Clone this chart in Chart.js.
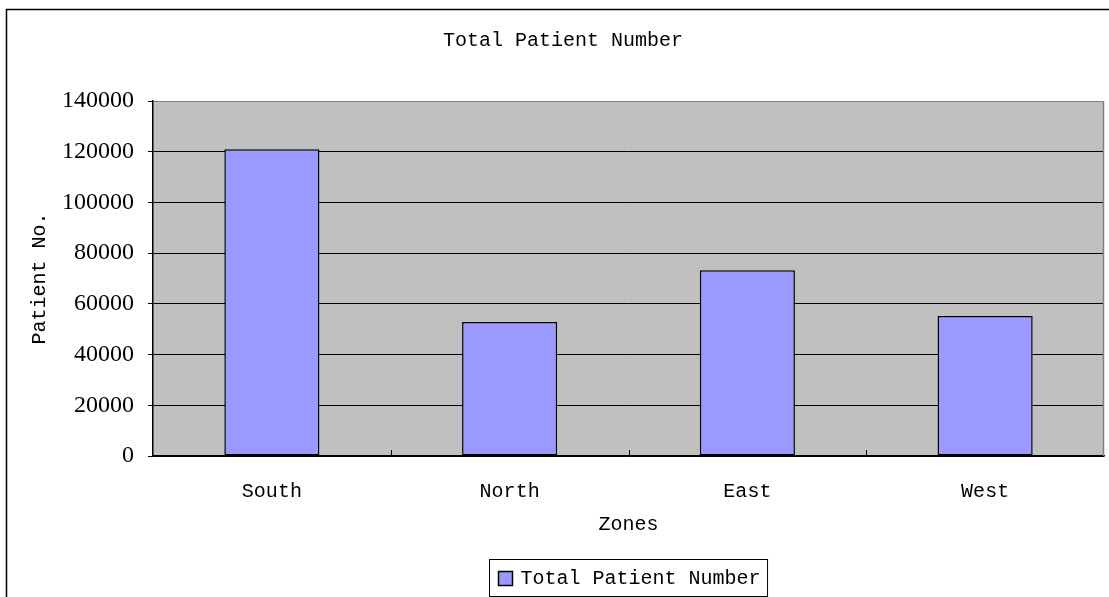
<!DOCTYPE html>
<html>
<head>
<meta charset="utf-8">
<script src="https://cdn.jsdelivr.net/npm/chart.js@4"></script>
<style>
  html, body { margin: 0; padding: 0; background: #ffffff; }
  #wrap { width: 1109px; height: 597px; position: relative; }
</style>
</head>
<body>
<div id="wrap"><canvas id="c" width="1109" height="597"></canvas></div>
<script>
const chartTitle = 'Total Patient Number';
const categories = ['South', 'North', 'East', 'West'];
const seriesLabel = 'Total Patient Number';
const seriesValues = [121000, 52800, 73300, 55200];
const yTicks = [0, 20000, 40000, 60000, 80000, 100000, 120000, 140000];
const xTitle = 'Zones';
const yTitle = 'Patient No.';

const textFont = '"Liberation Mono", "DejaVu Sans Mono", monospace';
const digitFont = '"Liberation Serif", "DejaVu Serif", serif';
const barFill = '#9999FF';

const decorPlugin = {
  id: 'decor',
  beforeDraw(chart) {
    const {ctx, chartArea: a} = chart;
    ctx.save();
    ctx.fillStyle = '#C0C0C0';
    ctx.fillRect(a.left, a.top, a.right - a.left, a.bottom - a.top);
    ctx.restore();
  },
  afterDraw(chart) {
    const {ctx, chartArea: a} = chart;
    ctx.save();
    // outer frame
    ctx.strokeStyle = '#000000';
    ctx.lineWidth = 1.5;
    ctx.beginPath();
    ctx.moveTo(6.5, chart.height + 2);
    ctx.lineTo(6.5, 9.5);
    ctx.lineTo(chart.width + 2, 9.5);
    ctx.stroke();
    // right border of plot area (gray)
    ctx.strokeStyle = '#808080';
    ctx.lineWidth = 1.5;
    ctx.beginPath();
    ctx.moveTo(a.right - 0.5, a.top);
    ctx.lineTo(a.right - 0.5, a.bottom);
    ctx.stroke();
    // inward tick marks between categories
    const xs = chart.scales.x;
    ctx.strokeStyle = '#000000';
    ctx.lineWidth = 1;
    for (let i = 0; i < categories.length - 1; i++) {
      const px = Math.round((xs.getPixelForTick(i) + xs.getPixelForTick(i + 1)) / 2) + 0.5;
      ctx.beginPath();
      ctx.moveTo(px, a.bottom);
      ctx.lineTo(px, a.bottom - 6);
      ctx.stroke();
    }
    // title
    ctx.fillStyle = '#000000';
    ctx.font = '20px ' + textFont;
    ctx.textAlign = 'center';
    ctx.textBaseline = 'middle';
    ctx.fillText(chartTitle, 563, 41);
    // legend
    const ds = chart.data.datasets[0];
    const tw = ctx.measureText(ds.label).width;
    const boxW = tw + 38;
    const cx = (a.left + a.right) / 2;
    const bx = Math.round(cx - boxW / 2) + 0.5;
    const by = 559.5;
    ctx.strokeStyle = '#000000';
    ctx.lineWidth = 1;
    ctx.strokeRect(bx, by, boxW, 37);
    ctx.fillStyle = ds.backgroundColor;
    ctx.fillRect(bx + 9, by + 12, 14, 14);
    ctx.lineWidth = 1.5;
    ctx.strokeRect(bx + 9, by + 12, 14, 14);
    ctx.fillStyle = '#000000';
    ctx.textAlign = 'left';
    ctx.fillText(ds.label, bx + 31, by + 19);
    ctx.restore();
  }
};

new Chart(document.getElementById('c'), {
  type: 'bar',
  data: {
    labels: categories,
    datasets: [{
      label: seriesLabel,
      data: seriesValues,
      backgroundColor: barFill,
      borderColor: '#000000',
      borderWidth: 1.5,
      borderSkipped: false,
      categoryPercentage: 1.0,
      barPercentage: 0.4
    }]
  },
  options: {
    responsive: false,
    animation: false,
    devicePixelRatio: 1,
    layout: { padding: { top: 101, right: 5, bottom: 55, left: 0 } },
    plugins: {
      legend: { display: false },
      title: { display: false },
      tooltip: { enabled: false }
    },
    scales: {
      x: {
        afterFit(scale) { scale.height = 86; },
        grid: { display: false },
        border: { display: true, color: '#000000', width: 1.5 },
        ticks: { color: '#000000', padding: 16, font: { family: textFont, size: 20 } },
        title: { display: true, text: xTitle, color: '#000000', padding: { top: 0, bottom: 5 }, font: { family: textFont, size: 20 } }
      },
      y: {
        min: 0,
        max: 140000,
        afterFit(scale) { scale.width = 153; },
        afterBuildTicks(scale) { scale.ticks = yTicks.map(v => ({ value: v })); },
        grid: {
          color: ctx => (ctx.tick && ctx.tick.value === 140000) ? '#808080' : '#000000',
          lineWidth: 1,
          tickLength: 5,
          tickColor: '#000000'
        },
        border: { display: true, color: '#000000', width: 1.5 },
        ticks: {
          color: '#000000',
          padding: 14,
          font: { family: digitFont, size: 24 },
          callback: v => String(v)
        },
        title: { display: true, text: yTitle, color: '#000000', padding: { top: 28, bottom: 0 }, font: { family: textFont, size: 20 } }
      }
    }
  },
  plugins: [decorPlugin]
});
</script>
</body>
</html>
